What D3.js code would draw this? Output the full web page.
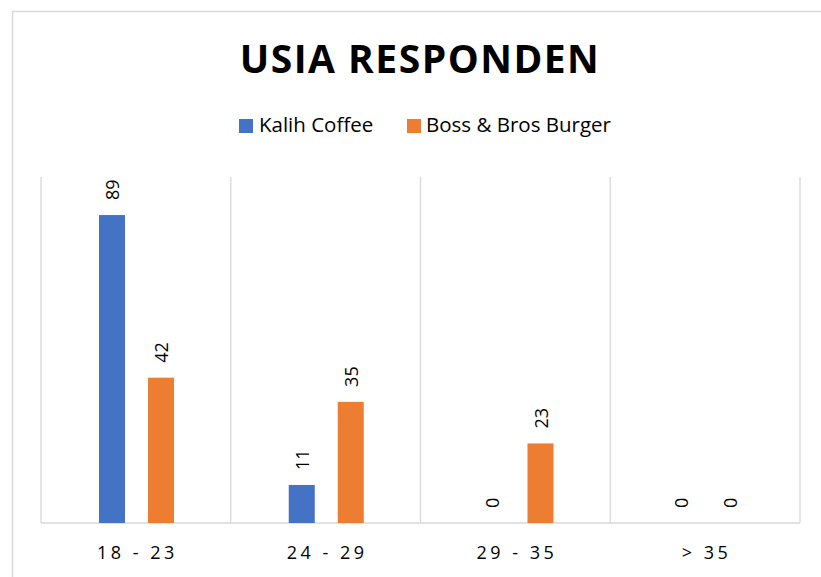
<!DOCTYPE html>
<html>
<head>
<meta charset="utf-8">
<script src="https://cdn.jsdelivr.net/npm/d3@7"></script>
<style>
  html, body { margin: 0; padding: 0; background: #fff; }
  svg { display: block; }
</style>
</head>
<body>
<svg id="chart" width="821" height="577"></svg>
<script>
const categories = ["18 - 23", "24 - 29", "29 - 35", "> 35"];
const seriesNames = ["Kalih Coffee", "Boss & Bros Burger"];
const kalihCoffee = [89, 11, 0, 0];
const bossBrosBurger = [42, 35, 23, 0];
const seriesColors = ["#4472C4", "#ED7D31"];
const chartTitle = "USIA RESPONDEN";

const seriesValues = [kalihCoffee, bossBrosBurger];

const svg = d3.select("#chart");

// chart frame
svg.append("rect")
  .attr("x", 12.5).attr("y", 11.5)
  .attr("width", 1000).attr("height", 1000)
  .attr("fill", "#fff").attr("stroke", "#d9d9d9").attr("stroke-width", 1.5);

const plot = { left: 41, right: 800, top: 177, bottom: 523 };

const x = d3.scaleBand().domain(categories).range([plot.left, plot.right]).paddingInner(0).paddingOuter(0);
const xs = d3.scaleBand().domain(seriesNames).range([58, 133]).paddingInner(23 / 49).paddingOuter(0);
const y = d3.scaleLinear().domain([0, 100]).range([plot.bottom, plot.top]);

// vertical gridlines at category boundaries
const bounds = categories.map(c => x(c)).concat([x(categories[categories.length - 1]) + x.bandwidth()]);
svg.append("g").selectAll("line").data(bounds).join("line")
  .attr("x1", d => d).attr("x2", d => d)
  .attr("y1", y(100)).attr("y2", y(0))
  .attr("stroke", "#d9d9d9").attr("stroke-width", 1.3);

// baseline
svg.append("line")
  .attr("x1", plot.left).attr("x2", plot.right)
  .attr("y1", y(0)).attr("y2", y(0))
  .attr("stroke", "#d9d9d9").attr("stroke-width", 1.5);

// bars
const data = [];
categories.forEach((c, i) => {
  seriesNames.forEach((s, j) => {
    data.push({ cat: c, series: s, value: seriesValues[j][i], color: seriesColors[j] });
  });
});

svg.append("g").selectAll("rect").data(data).join("rect")
  .attr("x", d => x(d.cat) + xs(d.series))
  .attr("y", d => y(d.value))
  .attr("width", xs.bandwidth())
  .attr("height", d => y(0) - y(d.value))
  .attr("fill", d => d.color);

// data labels (rotated)
svg.append("g").selectAll("text").data(data).join("text")
  .attr("transform", d => `translate(${x(d.cat) + xs(d.series) + xs.bandwidth() / 2},${y(d.value) - 15}) rotate(-90)`)
  .attr("text-anchor", "start")
  .attr("dominant-baseline", "central")
  .attr("font-family", "Open Sans, sans-serif")
  .attr("font-size", 18)
  .attr("fill", "#000")
  .text(d => d.value);

// category labels
svg.append("g").selectAll("text").data(categories).join("text")
  .attr("x", d => x(d) + x.bandwidth() / 2 + 1.5)
  .attr("y", 559)
  .attr("text-anchor", "middle")
  .attr("font-family", "Open Sans, sans-serif")
  .attr("font-size", 18)
  .attr("letter-spacing", 3.5)
  .attr("fill", "#000")
  .text(d => d);

// title
svg.append("text")
  .attr("x", 420).attr("y", 73)
  .attr("text-anchor", "middle")
  .attr("font-family", "Open Sans, sans-serif")
  .attr("font-weight", "bold")
  .attr("font-size", 39)
  .attr("letter-spacing", 1.5)
  .attr("fill", "#000")
  .text(chartTitle);

// legend
const legendItems = [
  { name: seriesNames[0], color: seriesColors[0], sx: 239, tx: 259 },
  { name: seriesNames[1], color: seriesColors[1], sx: 407, tx: 426 }
];
const lg = svg.append("g");
lg.selectAll("rect").data(legendItems).join("rect")
  .attr("x", d => d.sx).attr("y", 119).attr("width", 14).attr("height", 14)
  .attr("fill", d => d.color);
lg.selectAll("text").data(legendItems).join("text")
  .attr("x", d => d.tx).attr("y", 132)
  .attr("font-family", "Open Sans, sans-serif")
  .attr("font-size", 20.5)
  .attr("fill", "#000")
  .text(d => d.name);
</script>
</body>
</html>
